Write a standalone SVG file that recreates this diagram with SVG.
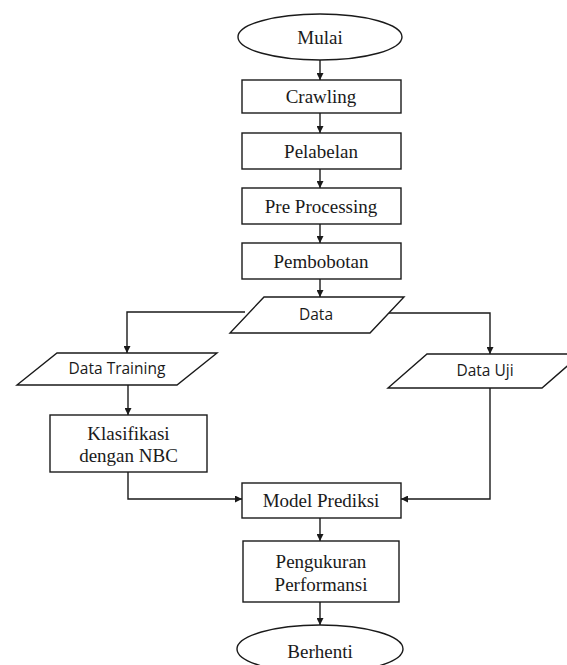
<svg xmlns="http://www.w3.org/2000/svg" width="567" height="665" viewBox="0 0 567 665">
<defs>
<marker id="ah" viewBox="0 0 10 10" refX="10" refY="5" markerWidth="7" markerHeight="7" markerUnits="userSpaceOnUse" orient="auto">
<path d="M0,0 L10,5 L0,10 z" fill="#1a1a1a"/>
</marker>
<style>
.shape{fill:#fff;stroke:#1a1a1a;stroke-width:1.4}
.serif{font-family:"Liberation Serif","Times New Roman",serif;font-size:19px;fill:#1a1a1a;text-anchor:middle;dominant-baseline:central}
.sans{font-family:"Open Sans","Noto Sans",sans-serif;font-size:15.5px;fill:#1a1a1a;text-anchor:middle;dominant-baseline:central}
.conn{fill:none;stroke:#1a1a1a;stroke-width:1.4;marker-end:url(#ah)}
</style>
</defs>
<rect width="567" height="665" fill="#fff"/>
<g id="connectors">
<path class="conn" d="M320,60 V80"/>
<path class="conn" d="M320,113 V133"/>
<path class="conn" d="M320,169 V188"/>
<path class="conn" d="M320,224 V243"/>
<path class="conn" d="M320,279 V297"/>
<path class="conn" d="M245,312 H127 V353"/>
<path class="conn" d="M389,313 H490 V354"/>
<path class="conn" d="M128,385 V415"/>
<path class="conn" d="M128,472 V499 H242"/>
<path class="conn" d="M490,388 V499 H401"/>
<path class="conn" d="M320,518 V541"/>
<path class="conn" d="M320,602 V625"/>
</g>
<g id="mulai">
<ellipse class="shape" cx="320" cy="37" rx="82" ry="23"/>
<text class="serif" x="320" y="37">Mulai</text>
</g>
<g id="crawling">
<rect class="shape" x="242" y="80" width="159" height="33"/>
<text class="serif" x="321" y="96.5">Crawling</text>
</g>
<g id="pelabelan">
<rect class="shape" x="242" y="133" width="159" height="36"/>
<text class="serif" x="321" y="151">Pelabelan</text>
</g>
<g id="preprocessing">
<rect class="shape" x="242" y="188" width="159" height="36"/>
<text class="serif" x="321" y="206">Pre Processing</text>
</g>
<g id="pembobotan">
<rect class="shape" x="242" y="243" width="159" height="36"/>
<text class="serif" x="321" y="261">Pembobotan</text>
</g>
<g id="data">
<polygon class="shape" points="264,297 404,297 370,333 230,333"/>
<text class="sans" x="316" y="314">Data</text>
</g>
<g id="datatraining">
<polygon class="shape" points="57,353 217,353 177,385 17,385"/>
<text class="sans" x="117" y="368">Data Training</text>
</g>
<g id="datauji">
<polygon class="shape" points="427,354 581,354 542,388 388,388"/>
<text class="sans" x="485" y="370">Data Uji</text>
</g>
<g id="klasifikasi">
<rect class="shape" x="50" y="415" width="157" height="57"/>
<text class="serif" x="128.5" y="433">Klasifikasi</text>
<text class="serif" x="128.5" y="455">dengan NBC</text>
</g>
<g id="modelprediksi">
<rect class="shape" x="242" y="483" width="159" height="35"/>
<text class="serif" x="321" y="500.5">Model Prediksi</text>
</g>
<g id="pengukuran">
<rect class="shape" x="243" y="541" width="156" height="61"/>
<text class="serif" x="321" y="561">Pengukuran</text>
<text class="serif" x="321" y="584">Performansi</text>
</g>
<g id="berhenti">
<ellipse class="shape" cx="320" cy="649" rx="83" ry="24"/>
<text class="serif" x="320" y="651">Berhenti</text>
</g>
</svg>
